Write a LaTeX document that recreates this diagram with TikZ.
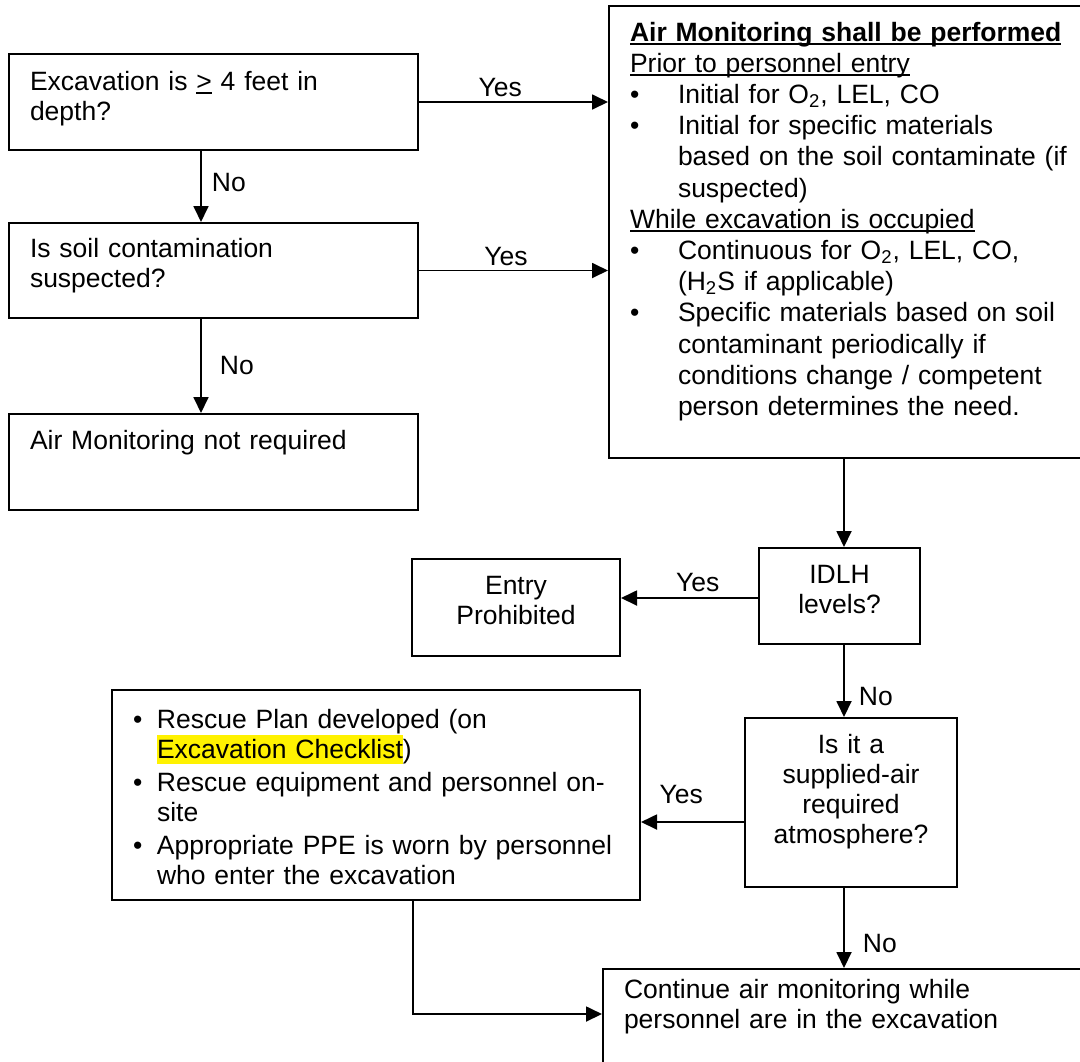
\documentclass[tikz,border=0pt]{standalone}
\usepackage{fontspec}
\setmainfont{Liberation Sans}
\usetikzlibrary{arrows.meta}

\newsavebox{\undrbox}
\newcommand{\undr}[1]{\leavevmode\sbox\undrbox{#1}\rlap{\rule[-2pt]{\wd\undrbox}{0.9pt}}\usebox\undrbox}
\newcommand{\hlt}[1]{{\setlength{\fboxsep}{0pt}\colorbox{yellow}{\rule[-3pt]{0pt}{14.5pt}#1}}}
\newcommand{\blt}[1]{\makebox[#1][l]{\textbullet}}

\begin{document}
\begin{tikzpicture}[x=0.5pt, y=-0.5pt,
    box/.style={draw, line width=1pt, anchor=north west, inner xsep=10.5pt, inner ysep=0pt,
      align=left, font=\fontsize{13.25pt}{15pt}\selectfont, text height=17.5pt},
    cbox/.style={box, inner xsep=5pt, align=center},
    flow/.style={line width=0.9pt, -{Triangle[length=8pt, width=7.5pt]}},
    lbl/.style={inner sep=1pt, font=\fontsize{13.25pt}{15pt}\selectfont}]
  \useasboundingbox (0,0) rectangle (1080,1061);
  \fill[white] (0,0) rectangle (1080,1061);
  \clip (0,0) rectangle (1080,1061);
  % Draw question boxes on the left
  \node[box, text width=183.5pt, text height=18pt, text depth=30pt] (depth) at (8,53)
    {Excavation is \undr{>} 4 feet in\\depth?};
  \node[box, text width=183.5pt, text height=17pt, text depth=30.5pt] (soil) at (8,222)
    {Is soil contamination\\suspected?};
  \node[box, text width=183.5pt, text depth=30.5pt] (notreq) at (8,413)
    {Air Monitoring not required};
  % Draw monitoring box (runs off the right edge)
  \node[box, text width=229pt, text depth=208.5pt, font=\fontsize{13.25pt}{15.6pt}\selectfont] (monitor) at (608,5)
    {\textbf{\undr{Air Monitoring shall be performed}}\\
     \undr{Prior to personnel entry}\\
     \blt{24pt}Initial for O\textsubscript{2}, LEL, CO\\
     \blt{24pt}Initial for specific materials\\
     \hspace*{24pt}based on the soil contaminate (if\\
     \hspace*{24pt}suspected)\\
     \undr{While excavation is occupied}\\
     \blt{24pt}Continuous for O\textsubscript{2}, LEL, CO,\\
     \hspace*{24pt}(H\textsubscript{2}S if applicable)\\
     \blt{24pt}Specific materials based on soil\\
     \hspace*{24pt}contaminant periodically if\\
     \hspace*{24pt}conditions change / competent\\
     \hspace*{24pt}person determines the need.};
  % Draw lower boxes
  \node[cbox, text width=94pt, text depth=31pt] (entry) at (411,558) {Entry\\Prohibited};
  \node[cbox, text width=70.5pt, text depth=30.5pt] (idlh) at (758,547) {IDLH\\levels?};
  \node[cbox, text width=96pt, text depth=67pt] (supplied) at (744,717)
    {Is it a\\supplied-air\\required\\atmosphere?};
  \node[box, text width=243pt, text height=19pt, text depth=86pt] (rescue) at (111,689)
    {\blt{12pt}Rescue Plan developed (on\\
     \hspace*{12pt}\hlt{Excavation Checklist})\\[1.5pt]
     \blt{12pt}Rescue equipment and personnel on-\\
     \hspace*{12pt}site\\[1.5pt]
     \blt{12pt}Appropriate PPE is worn by personnel\\
     \hspace*{12pt}who enter the excavation};
  \node[box, text width=229pt, text height=14.5pt, text depth=60.5pt] (continue) at (602,968)
    {Continue air monitoring while\\personnel are in the excavation};
  % Draw arrows
  \coordinate (colL) at (201,0);
  \coordinate (colM) at (844,0);
  \coordinate (colR) at (413,0);
  \coordinate (rowI) at (0,598);
  \coordinate (rowS) at (0,822);
  \coordinate (rowC) at (0,1014);
  \draw[flow] (depth.east) -- node[lbl, above=1pt, pos=0.43] {Yes} (depth.east -| monitor.west);
  \draw[flow] (soil.east) -- node[lbl, above=1pt, pos=0.46] {Yes} (soil.east -| monitor.west);
  \draw[flow] (depth.south -| colL) -- node[lbl, right=4pt, pos=0.45] {No} (soil.north -| colL);
  \draw[flow] (soil.south -| colL) -- node[lbl, right=8pt] {No} (notreq.north -| colL);
  \draw[flow] (monitor.south -| colM) -- (idlh.north -| colM);
  \draw[flow] (idlh.west |- rowI) -- node[lbl, above=1.5pt, pos=0.44] {Yes} (entry.east |- rowI);
  \draw[flow] (idlh.south -| colM) -- node[lbl, right=6pt, pos=0.72] {No} (supplied.north -| colM);
  \draw[flow] (supplied.west |- rowS) -- node[lbl, above=7.5pt, pos=0.61] {Yes} (rescue.east |- rowS);
  \draw[flow] (supplied.south -| colM) -- node[lbl, right=8pt, pos=0.69] {No} (continue.north -| colM);
  \draw[flow] (rescue.south -| colR) |- (continue.west |- rowC);
\end{tikzpicture}
\end{document}
